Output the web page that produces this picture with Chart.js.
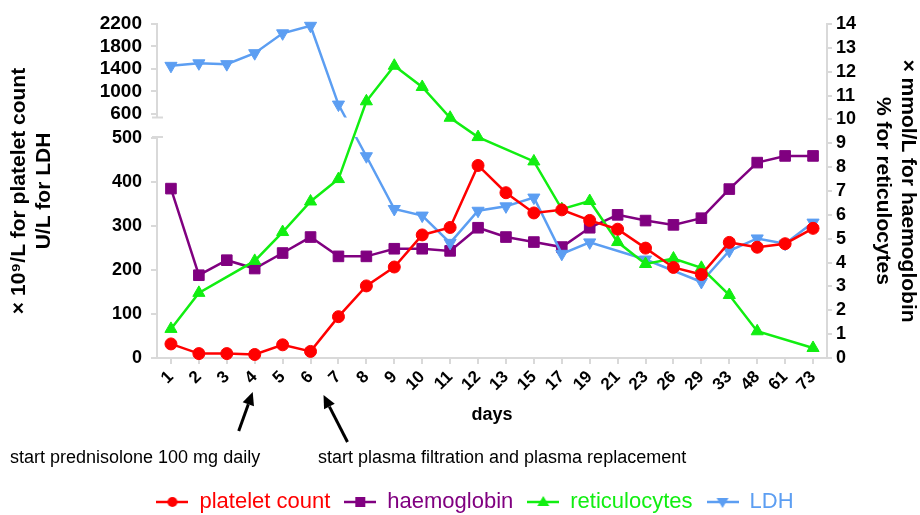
<!DOCTYPE html>
<html>
<head>
<meta charset="utf-8">
<script src="https://cdn.jsdelivr.net/npm/chart.js@4.4.0/dist/chart.umd.min.js"></script>
<style>
  html, body { margin: 0; padding: 0; background: #fff; }
</style>
</head>
<body>
<canvas id="chart" width="920" height="515"></canvas>
<script>
// data
var days = ['1','2','3','4','5','6','7','8','9','10','11','12','13','15','17','19','21','23','26','29','33','48','61','73'];
var platelet_count = [32, 10, 10, 8, 30, 15, 94, 164, 207, 280, 297, 438, 376, 330, 337, 313, 293, 250, 206, 190, 263, 252, 260, 295];
var haemoglobin = [7.1, 3.47, 4.1, 3.75, 4.4, 5.07, 4.26, 4.26, 4.58, 4.58, 4.49, 5.46, 5.07, 4.86, 4.65, 5.46, 6.0, 5.76, 5.58, 5.86, 7.08, 8.19, 8.47, 8.47];
var reticulocytes = [1.22, 2.73, null, 4.07, 5.28, 6.56, 7.5, 10.76, 12.25, 11.36, 10.07, 9.26, null, 8.24, 6.24, 6.58, 4.86, 3.94, 4.17, 3.78, 2.64, 1.12, null, 0.42];
var ldh = [1455, 1500, 1485, 1680, 2034, 2168, 765, 459, 339, 324, 262, 335, 345, 365, 237, 263, null, 224, null, 173, 244, 272, 260, 308];

var left_ticks = [0, 100, 200, 300, 400, 500, 600, 1000, 1400, 1800, 2200];
var right_ticks = [0, 1, 2, 3, 4, 5, 6, 7, 8, 9, 10, 11, 12, 13, 14];

var series_names = ['platelet count', 'haemoglobin', 'reticulocytes', 'LDH'];
var series_colors = ['#ff0000', '#800080', '#11ee11', '#5c9ef2'];

var AXIS_GREY = '#d9d9d9';
var SANS = "'Liberation Sans', Arial, sans-serif";
var NARROW = "'Liberation Sans Narrow', 'Arial Narrow', 'Liberation Sans', sans-serif";

// broken left axis: 0-500 on the lower part, 600-2200 squeezed on top
var F_LOW = 0.658, F_HIGH = 0.731;
var GAP_TOP_F = 0.720, GAP_BOTTOM_F = 0.662;

function to_frac(v)
{
    if (v <= 500) return v / 500 * F_LOW;
    if (v < 600) return F_LOW + (v - 500) / 100 * (F_HIGH - F_LOW);
    return F_HIGH + (v - 600) / 1600 * (1 - F_HIGH);
}

function from_frac(f)
{
    if (f <= F_LOW) return f / F_LOW * 500;
    if (f < F_HIGH) return 500 + (f - F_LOW) / (F_HIGH - F_LOW) * 100;
    return 600 + (f - F_HIGH) / (1 - F_HIGH) * 1600;
}

class BrokenScale extends Chart.LinearScale
{
    getPixelForValue(v)
    {
        if (v === null || v === undefined || isNaN(v)) return NaN;
        return this.getPixelForDecimal(to_frac(v));
    }
    getValueForPixel(p)
    {
        return from_frac(this.getDecimalForPixel(p));
    }
    drawBorder()
    {
        var ctx = this.ctx;
        var x = this._borderValue !== undefined ? this._borderValue : this.right;
        var y_top = this.getPixelForDecimal(GAP_TOP_F);
        var y_bottom = this.getPixelForDecimal(GAP_BOTTOM_F);
        ctx.save();
        ctx.strokeStyle = AXIS_GREY;
        ctx.lineWidth = 2;
        ctx.beginPath();
        ctx.moveTo(x, this.top - 1); ctx.lineTo(x, y_top);
        ctx.moveTo(x, y_bottom); ctx.lineTo(x, this.bottom + 1);
        ctx.moveTo(x - 5, y_top); ctx.lineTo(x + 6, y_top);
        ctx.moveTo(x - 5, y_bottom); ctx.lineTo(x + 6, y_bottom);
        ctx.stroke();
        ctx.restore();
    }
}
BrokenScale.id = 'broken';
BrokenScale.defaults = Chart.LinearScale.defaults;
Chart.register(BrokenScale);

// legend marks: short line with the marker in the middle
function legend_mark(i)
{
    var c = document.createElement('canvas');
    c.width = 32; c.height = 18;
    var g = c.getContext('2d');
    g.strokeStyle = series_colors[i];
    g.fillStyle = series_colors[i];
    g.lineWidth = 2.5;
    g.beginPath(); g.moveTo(0, 9); g.lineTo(32, 9); g.stroke();
    g.beginPath();
    if (i == 0) g.arc(16, 9, 5, 0, Math.PI * 2);
    else if (i == 1) g.rect(11, 4, 10, 10);
    else if (i == 2) { g.moveTo(16, 3); g.lineTo(22, 13); g.lineTo(10, 13); g.closePath(); }
    else { g.moveTo(16, 15); g.lineTo(22, 5); g.lineTo(10, 5); g.closePath(); }
    g.fill();
    return c;
}
var legend_marks = [0, 1, 2, 3].map(legend_mark);

// LDH line is cut where the axis is broken
var break_plugin = {
    id: 'break_plugin',
    afterLayout: function(chart)
    {
        // legend sits a little right of centre in the original
        chart.legend.left += 15;
        chart.legend.right += 15;
    },
    beforeDatasetDraw: function(chart, args)
    {
        if (args.index !== 3) return;
        var ys = chart.scales.y, ctx = chart.ctx;
        var top = ys.getPixelForDecimal(GAP_TOP_F);
        var bottom = ys.getPixelForDecimal(GAP_BOTTOM_F);
        ctx.save();
        ctx.beginPath();
        ctx.rect(0, 0, chart.width, chart.height);
        ctx.rect(0, top, chart.width, bottom - top);
        ctx.clip('evenodd');
    },
    afterDatasetDraw: function(chart, args)
    {
        if (args.index === 3) chart.ctx.restore();
    }
};

function arrow(ctx, x0, y0, x1, y1)
{
    var a = Math.atan2(y1 - y0, x1 - x0);
    var len = 13, half = 6;
    var bx = x1 - Math.cos(a) * len, by = y1 - Math.sin(a) * len;
    ctx.beginPath();
    ctx.moveTo(x0, y0); ctx.lineTo(bx, by);
    ctx.stroke();
    ctx.beginPath();
    ctx.moveTo(x1, y1);
    ctx.lineTo(bx + Math.sin(a) * half, by - Math.cos(a) * half);
    ctx.lineTo(bx - Math.sin(a) * half, by + Math.cos(a) * half);
    ctx.closePath();
    ctx.fill();
}

var notes_plugin = {
    id: 'notes_plugin',
    afterDraw: function(chart)
    {
        var ctx = chart.ctx, xs = chart.scales.x;
        var base = chart.chartArea.bottom;
        var x4 = xs.getPixelForValue(3);
        var x67 = (xs.getPixelForValue(5) + xs.getPixelForValue(6)) / 2;
        ctx.save();
        ctx.strokeStyle = '#000';
        ctx.fillStyle = '#000';
        ctx.lineWidth = 3;
        arrow(ctx, x4 - 16, base + 73, x4 - 2, base + 34);
        arrow(ctx, x67 + 23, base + 84, x67 - 1, base + 37);
        ctx.font = '18px ' + NARROW;
        ctx.textBaseline = 'middle';
        ctx.textAlign = 'left';
        ctx.fillText('start prednisolone 100 mg daily', 10, base + 100);
        ctx.fillText('start plasma filtration and plasma replacement', 318, base + 100);
        ctx.restore();
    }
};

Chart.defaults.font.family = SANS;
Chart.defaults.color = '#000';

function make_set(i, values, axis, style, radius, rotation, order)
{
    return {
        label: series_names[i],
        data: values,
        yAxisID: axis,
        borderColor: series_colors[i],
        backgroundColor: series_colors[i],
        borderWidth: 2.5,
        pointStyle: style,
        pointRadius: radius,
        pointRotation: rotation,
        pointBorderWidth: 1,
        spanGaps: true,
        tension: 0,
        clip: false,
        order: order
    };
}

var m_chart = new Chart(document.getElementById('chart'), {
    type: 'line',
    data: {
        labels: days,
        datasets: [
            make_set(0, platelet_count, 'y', 'circle', 6, 0, 0),
            make_set(1, haemoglobin, 'y2', 'rect', 7.5, 0, 3),
            make_set(2, reticulocytes, 'y2', 'triangle', 7, 0, 1),
            make_set(3, ldh, 'y', 'triangle', 7, 180, 2)
        ]
    },
    options: {
        responsive: false,
        animation: false,
        layout: { padding: { top: 24, bottom: -8, left: 0, right: 0 } },
        plugins: {
            tooltip: { enabled: false },
            legend: {
                position: 'bottom',
                labels: {
                    usePointStyle: true,
                    pointStyleWidth: 32,
                    padding: 14,
                    font: { family: NARROW, size: 22 },
                    generateLabels: function(chart)
                    {
                        return chart.data.datasets.map(function(ds, i) {
                            return {
                                text: ds.label,
                                fontColor: series_colors[i],
                                pointStyle: legend_marks[i],
                                fillStyle: 'transparent',
                                strokeStyle: 'transparent',
                                lineWidth: 0,
                                hidden: false,
                                datasetIndex: i
                            };
                        });
                    }
                }
            }
        },
        scales: {
            x: {
                type: 'category',
                offset: true,
                grid: { drawOnChartArea: false, offset: false, tickLength: 6, color: AXIS_GREY, lineWidth: 2 },
                border: { color: AXIS_GREY, width: 2 },
                ticks: { autoSkip: false, minRotation: 45, maxRotation: 45, padding: 3, font: { weight: 'bold', size: 17 } },
                title: { display: true, text: 'days', font: { weight: 'bold', size: 18 }, padding: { top: 4, bottom: 51 } },
                afterFit: function(s) { s.height = 119; }
            },
            y: {
                type: 'broken',
                position: 'left',
                min: 0,
                max: 2200,
                afterBuildTicks: function(s) { s.ticks = left_ticks.map(function(v) { return { value: v }; }); },
                grid: { drawOnChartArea: false, tickLength: 6, color: AXIS_GREY, lineWidth: 2 },
                border: { color: AXIS_GREY, width: 2 },
                ticks: {
                    padding: 9,
                    callback: function(v) { return String(v); },
                    font: function(c) { return { weight: 'bold', size: (c.tick && c.tick.value > 500) ? 19 : 18 }; }
                },
                title: {
                    display: true,
                    text: ['\u00d7 10\u2079/L for platelet count', 'U/L for LDH'],
                    font: { weight: 'bold', size: 21, lineHeight: 1.19 },
                    padding: { top: 7, bottom: 0 }
                },
                afterFit: function(s) { s.width = 157; }
            },
            y2: {
                type: 'linear',
                position: 'right',
                min: 0,
                max: 14,
                afterBuildTicks: function(s) { s.ticks = right_ticks.map(function(v) { return { value: v }; }); },
                grid: { drawOnChartArea: false, tickLength: 5, color: AXIS_GREY, lineWidth: 2 },
                border: { color: AXIS_GREY, width: 2 },
                ticks: { autoSkip: false, padding: 4, callback: function(v) { return String(v); }, font: { weight: 'bold', size: 18 } },
                title: {
                    display: true,
                    text: ['\u00d7 mmol/L for haemoglobin', '% for reticulocytes'],
                    font: { weight: 'bold', size: 21, lineHeight: 1.19 },
                    padding: { top: 0, bottom: 0 }
                },
                afterFit: function(s) { s.width = 93; }
            }
        }
    },
    plugins: [break_plugin, notes_plugin]
});
</script>
</body>
</html>
